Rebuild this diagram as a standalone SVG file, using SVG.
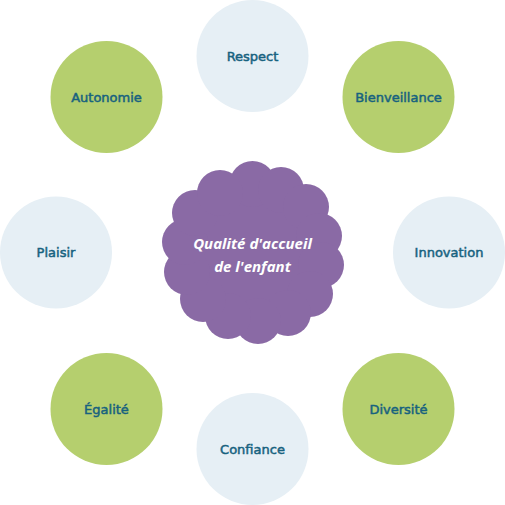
<svg xmlns="http://www.w3.org/2000/svg" width="505" height="505" viewBox="0 0 505 505">
<style>
.light{fill:#e6eff5}
.green{fill:#b5cf6e}
.lbl{font-family:"DejaVu Sans","Open Sans",sans-serif;font-size:13px;font-weight:400;fill:#17627f;text-anchor:middle;dominant-baseline:central;stroke:#17627f;stroke-width:0.5}
.ctr{font-family:"Open Sans","DejaVu Sans",sans-serif;font-size:15px;font-weight:700;font-style:italic;fill:#ffffff;text-anchor:middle}
.cloud{fill:#8a6aa5}
</style>
<g id="center">
<g class="cloud">
<circle cx="252.5" cy="252.5" r="72"/>
<circle cx="252.5" cy="184" r="23"/>
<circle cx="281" cy="190" r="23"/>
<circle cx="306" cy="207" r="23"/>
<circle cx="319" cy="236" r="23"/>
<circle cx="321" cy="265" r="23"/>
<circle cx="310" cy="294" r="23"/>
<circle cx="288" cy="313" r="23"/>
<circle cx="258" cy="321" r="23"/>
<circle cx="228" cy="316" r="23"/>
<circle cx="203" cy="299" r="23"/>
<circle cx="187" cy="272" r="23"/>
<circle cx="185" cy="242" r="23"/>
<circle cx="195" cy="213" r="23"/>
<circle cx="220" cy="193" r="23"/>
</g>
<text class="ctr" x="252.5" y="249">Qualité d'accueil</text>
<text class="ctr" x="252.5" y="272">de l'enfant</text>
</g>
<g id="respect"><circle class="light" cx="252.5" cy="56" r="56"/><text class="lbl" x="252.5" y="56">Respect</text></g>
<g id="bienveillance"><circle class="green" cx="398.5" cy="97" r="56"/><text class="lbl" x="398.5" y="97">Bienveillance</text></g>
<g id="innovation"><circle class="light" cx="449" cy="252.5" r="56"/><text class="lbl" x="449" y="252.5">Innovation</text></g>
<g id="diversite"><circle class="green" cx="398.5" cy="409" r="56"/><text class="lbl" x="398.5" y="409">Diversité</text></g>
<g id="confiance"><circle class="light" cx="252.5" cy="449" r="56"/><text class="lbl" x="252.5" y="449">Confiance</text></g>
<g id="egalite"><circle class="green" cx="106.5" cy="409" r="56"/><text class="lbl" x="106.5" y="409">Égalité</text></g>
<g id="plaisir"><circle class="light" cx="56" cy="252.5" r="56"/><text class="lbl" x="56" y="252.5">Plaisir</text></g>
<g id="autonomie"><circle class="green" cx="106.5" cy="97" r="56"/><text class="lbl" x="106.5" y="97">Autonomie</text></g>
<g id="connectors"></g>
</svg>
